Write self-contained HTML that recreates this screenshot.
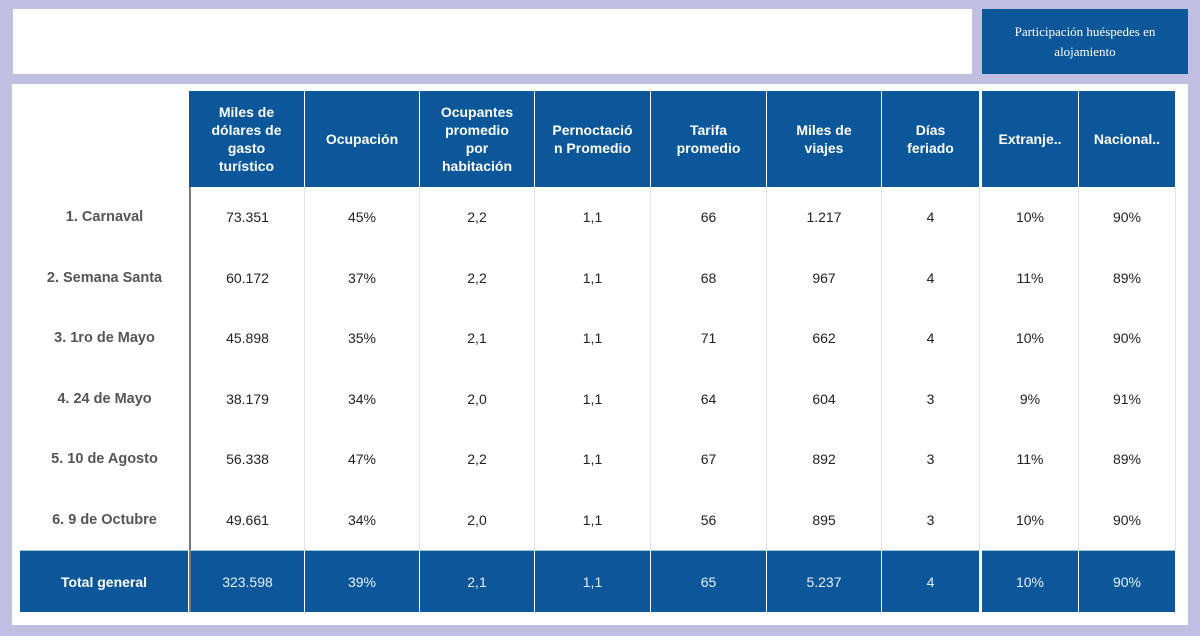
<!DOCTYPE html>
<html><head><meta charset="utf-8"><style>
body{margin:0;width:1200px;height:636px;background:#bfc0e1;position:relative;overflow:hidden;font-family:"Liberation Sans",Arial,sans-serif}
.abs{position:absolute}
.t{left:13px;top:9px;width:959px;height:65px;background:#fff}
.p{left:982px;top:9px;width:206px;height:65px;background:#0b5799;color:#fff;font-family:"Liberation Serif",serif;font-size:13px;line-height:20px;text-align:center;display:flex;align-items:center;justify-content:center}
.m{left:12px;top:84px;width:1176px;height:541px;background:#fff}
.g{left:20px;top:91px;display:grid;grid-template-columns:169px 116px 115px 115px 116px 116px 115px 98px 2px 97px 97px;grid-template-rows:96px repeat(6,60.5px) 62px}
.g div{display:flex;align-items:center;justify-content:center;text-align:center;font-size:14px;color:#222;box-sizing:border-box}
.h{background:#0b5799;color:#fff!important;font-weight:bold;line-height:18px;border-right:1.5px solid #fff;padding:0 4px}
.e{background:transparent}
.l{color:#555!important;font-weight:bold;font-size:14.5px!important}
.c{border-right:1px solid #e4e4e4}
.f{border-left:2px solid #777}
.tt{background:#0b5799;color:#e8f0ff!important;border-right:1.5px solid #fff;border-top:1px solid #9cc}
.tl{font-weight:bold;color:#fff!important}
</style></head><body>
<div class="abs t"></div>
<div class="abs p">Participación huéspedes en<br>alojamiento</div>
<div class="abs m"></div>
<div class="abs g">
<div class="e"></div><div class="h">Miles de<br>dólares de<br>gasto<br>turístico</div><div class="h">Ocupación</div><div class="h">Ocupantes<br>promedio<br>por<br>habitación</div><div class="h">Pernoctació<br>n Promedio</div><div class="h">Tarifa<br>promedio</div><div class="h">Miles de<br>viajes</div><div class="h">Días<br>feriado</div><div class="e"></div><div class="h">Extranje..</div><div class="h">Nacional..</div>

<div class="l">1. Carnaval</div><div class="c f">73.351</div><div class="c">45%</div><div class="c">2,2</div><div class="c">1,1</div><div class="c">66</div><div class="c">1.217</div><div class="c">4</div><div></div><div class="c">10%</div><div class="c">90%</div>
<div class="l">2. Semana Santa</div><div class="c f">60.172</div><div class="c">37%</div><div class="c">2,2</div><div class="c">1,1</div><div class="c">68</div><div class="c">967</div><div class="c">4</div><div></div><div class="c">11%</div><div class="c">89%</div>
<div class="l">3. 1ro de Mayo</div><div class="c f">45.898</div><div class="c">35%</div><div class="c">2,1</div><div class="c">1,1</div><div class="c">71</div><div class="c">662</div><div class="c">4</div><div></div><div class="c">10%</div><div class="c">90%</div>
<div class="l">4. 24 de Mayo</div><div class="c f">38.179</div><div class="c">34%</div><div class="c">2,0</div><div class="c">1,1</div><div class="c">64</div><div class="c">604</div><div class="c">3</div><div></div><div class="c">9%</div><div class="c">91%</div>
<div class="l">5. 10 de Agosto</div><div class="c f">56.338</div><div class="c">47%</div><div class="c">2,2</div><div class="c">1,1</div><div class="c">67</div><div class="c">892</div><div class="c">3</div><div></div><div class="c">11%</div><div class="c">89%</div>
<div class="l">6. 9 de Octubre</div><div class="c f">49.661</div><div class="c">34%</div><div class="c">2,0</div><div class="c">1,1</div><div class="c">56</div><div class="c">895</div><div class="c">3</div><div></div><div class="c">10%</div><div class="c">90%</div>

<div class="tt tl">Total general</div><div class="tt f">323.598</div><div class="tt">39%</div><div class="tt">2,1</div><div class="tt">1,1</div><div class="tt">65</div><div class="tt">5.237</div><div class="tt">4</div><div></div><div class="tt">10%</div><div class="tt">90%</div>
</div>
</body></html>
